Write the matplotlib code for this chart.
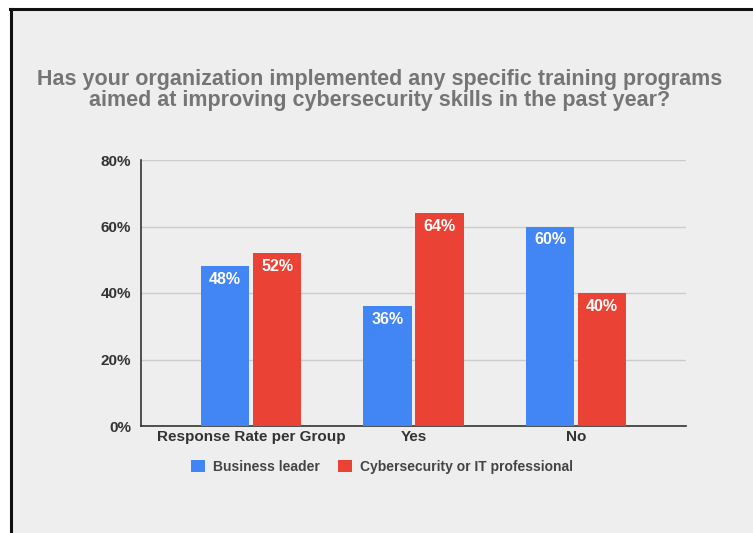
import numpy as np
import matplotlib.pyplot as plt
from matplotlib.patches import Rectangle

plt.rcParams['font.family'] = ['Liberation Sans', 'DejaVu Sans']

categories = ['Response Rate per Group', 'Yes', 'No']
business_leader = [48, 36, 60]
cyber_it = [52, 64, 40]
series_names = ['Business leader', 'Cybersecurity or IT professional']
yticks = [0, 20, 40, 60, 80]

BLUE = '#4285F4'
RED = '#EA4335'
BG = '#eeeeee'

fig = plt.figure(figsize=(7.53, 5.33), dpi=100)
fig.patch.set_facecolor('white')
# grey card with a dark frame on the top and left
fig.patches.append(Rectangle((12 / 753, 0), 1, 1 - 10 / 533, transform=fig.transFigure,
                             facecolor=BG, edgecolor='none', zorder=-5))
fig.add_artist(plt.Line2D([11 / 753, 11 / 753], [0, 1 - 9 / 533], color='#111111', lw=2.2,
                          transform=fig.transFigure))
fig.add_artist(plt.Line2D([10 / 753, 1], [1 - 9 / 533, 1 - 9 / 533], color='#111111', lw=2.2,
                          transform=fig.transFigure))

ax = fig.add_axes([141 / 753, 1 - 426 / 533, 545 / 753, 266 / 533])
ax.set_facecolor(BG)
ax.set_zorder(1)

x = np.arange(len(categories))
w = 0.30
gap = 0.01
b1 = ax.bar(x - w / 2 - gap, business_leader, w, color=BLUE, zorder=3, label=series_names[0])
b2 = ax.bar(x + w / 2 + gap, cyber_it, w, color=RED, zorder=3, label=series_names[1])

for bars, vals in [(b1, business_leader), (b2, cyber_it)]:
    for rect, v in zip(bars, vals):
        ax.text(rect.get_x() + rect.get_width() / 2, v - 4.0, f'{v}%', ha='center', va='center',
                color='white', fontsize=11.5, fontweight='bold', zorder=4)

ax.set_xlim(-0.677, 2.677)
ax.set_ylim(0, 80)
ax.set_yticks(yticks)
ax.set_yticklabels([f'{t}%' for t in yticks], fontsize=11, fontweight='bold', color='#333333')
ax.set_xticks(x)
ax.set_xticklabels(categories, fontsize=11, fontweight='bold', color='#333333')
ax.tick_params(length=0, pad=7)
ax.tick_params(axis='x', pad=3)
ax.grid(axis='y', color='#cccccc', lw=1, zorder=0)
for s in ['top', 'right']:
    ax.spines[s].set_visible(False)
ax.spines['left'].set_color('#333333')
ax.spines['bottom'].set_color('#333333')
ax.spines['left'].set_linewidth(1.2)
ax.spines['bottom'].set_linewidth(1.2)

fig.text(380 / 753, 1 - 90 / 533,
         'Has your organization implemented any specific training programs\n'
         'aimed at improving cybersecurity skills in the past year?',
         ha='center', va='center', fontsize=15.5, fontweight='bold', color='#757575',
         linespacing=1.0)

leg = fig.legend(loc='center', bbox_to_anchor=(382 / 753, 1 - 467 / 533), ncol=2, frameon=False,
                 handlelength=1.0, handleheight=1.0, handletextpad=0.6, columnspacing=1.3,
                 prop={'size': 10, 'weight': 'bold'})
for t in leg.get_texts():
    t.set_color('#444444')

fig.savefig('out.png', dpi=100, facecolor=fig.get_facecolor())
